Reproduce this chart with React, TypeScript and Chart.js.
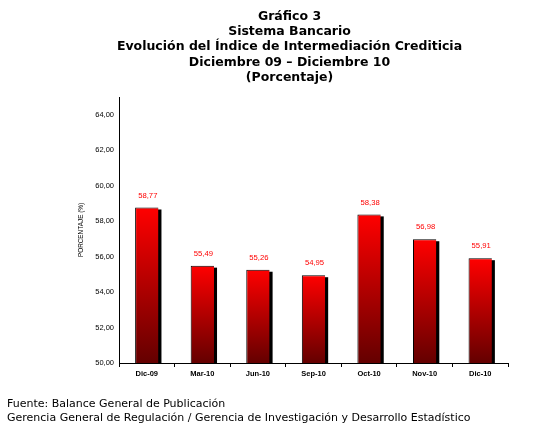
import React, { useEffect, useRef } from "react";
import { Chart, registerables } from "chart.js";

Chart.register(...registerables);

const categories = ["Dic-09", "Mar-10", "Jun-10", "Sep-10", "Oct-10", "Nov-10", "Dic-10"];
const values = [58.77, 55.49, 55.26, 54.95, 58.38, 56.98, 55.91];
const titleLines = [
  "Gráfico 3",
  "Sistema Bancario",
  "Evolución del Índice de Intermediación Crediticia",
  "Diciembre 09 – Diciembre 10",
  "(Porcentaje)",
];
const sourceLines = [
  "Fuente: Balance General de Publicación",
  "Gerencia General de Regulación / Gerencia de Investigación y Desarrollo Estadístico",
];
const yAxisTitle = "PORCENTAJE (%)";
const yMin = 50;
const yMax = 65;
const yStep = 2;

const fmt = (v: number) => v.toFixed(2).replace(".", ",");

export default function App() {
  const ref = useRef<HTMLCanvasElement>(null);

  useEffect(() => {
    if (!ref.current) return;

    const shadowPlugin = {
      id: "barShadow",
      beforeDatasetsDraw(chart: any) {
        const ctx = chart.ctx;
        const meta = chart.getDatasetMeta(0);
        const bottom = chart.chartArea.bottom;
        ctx.save();
        ctx.fillStyle = "#000000";
        meta.data.forEach((bar: any) => {
          const { x, y, base, width } = bar.getProps(["x", "y", "base", "width"], true);
          const b = Math.min(base, bottom);
          ctx.fillRect(x - width / 2 + 3, y + 2, width, b - y - 2);
        });
        ctx.restore();
      },
    };

    const labelPlugin = {
      id: "valueLabels",
      afterDatasetsDraw(chart: any) {
        const ctx = chart.ctx;
        const meta = chart.getDatasetMeta(0);
        ctx.save();
        ctx.fillStyle = "#ff0000";
        ctx.font = "7.7px 'Liberation Sans', Arial, sans-serif";
        ctx.textAlign = "center";
        ctx.textBaseline = "middle";
        meta.data.forEach((bar: any, i: number) => {
          const { x, y } = bar.getProps(["x", "y"], true);
          ctx.fillText(fmt(values[i]), x + 1, y - 12);
        });
        ctx.restore();
      },
    };

    const chart = new Chart(ref.current, {
      type: "bar",
      data: {
        labels: categories,
        datasets: [
          {
            data: values,
            backgroundColor: (c: any) => {
              const ch = c.chart;
              const area = ch.chartArea;
              if (!area || c.type !== "data" || !ch.scales.y) return "#d00000";
              const yTop = ch.scales.y.getPixelForValue(c.raw);
              const g = ch.ctx.createLinearGradient(0, yTop, 0, area.bottom);
              g.addColorStop(0, "#ff0000");
              g.addColorStop(1, "#640000");
              return g;
            },
            borderColor: "#000000",
            borderWidth: { top: 1, left: 1, right: 0, bottom: 0 },
            borderSkipped: false,
            barPercentage: 0.42,
            categoryPercentage: 1,
          },
        ],
      },
      options: {
        animation: false,
        responsive: false,
        devicePixelRatio: 1,
        layout: { padding: { left: 70, top: 97, right: 31, bottom: 47 } },
        plugins: {
          legend: { display: false },
          tooltip: { enabled: false },
          title: { display: false },
        },
        scales: {
          x: {
            grid: {
              display: true,
              drawOnChartArea: false,
              drawTicks: true,
              tickLength: 4,
              color: "#000000",
              offset: true,
            },
            border: { display: true, color: "#000000", width: 1 },
            ticks: {
              color: "#000000",
              padding: 2.5,
              font: { family: "'Liberation Sans', Arial, sans-serif", size: 7.5, weight: "bold" },
              maxRotation: 0,
            },
            afterFit: (s: any) => {
              s.height = 20;
            },
          },
          y: {
            min: yMin,
            max: yMax,
            grid: { display: false, drawTicks: false },
            border: { display: true, color: "#000000", width: 1 },
            ticks: {
              stepSize: yStep,
              includeBounds: false,
              color: "#000000",
              padding: 5,
              font: { family: "'Liberation Sans', Arial, sans-serif", size: 7.5 },
              callback: (v: any) => fmt(Number(v)),
            },
            title: {
              display: true,
              text: yAxisTitle,
              color: "#000000",
              padding: { top: 7.4, bottom: 0 },
              font: { family: "'Liberation Sans', Arial, sans-serif", size: 6.4 },
            },
            afterFit: (s: any) => {
              s.width = 49;
            },
          },
        },
      },
      plugins: [shadowPlugin, labelPlugin],
    } as any);

    return () => chart.destroy();
  }, []);

  return (
    <div style={{ position: "fixed", left: 0, top: 0, width: 539, height: 430, background: "#ffffff" }}>
      <canvas ref={ref} width={539} height={430} style={{ position: "absolute", left: 0, top: 0 }} />
      <div
        style={{
          position: "absolute",
          left: 20,
          top: 7.5,
          width: 539,
          textAlign: "center",
          fontFamily: "'DejaVu Sans', Verdana, sans-serif",
          fontWeight: "bold",
          fontSize: 12.5,
          lineHeight: "15.4px",
          color: "#000000",
        }}
      >
        {titleLines.map((t, i) => (
          <div key={i}>{t}</div>
        ))}
      </div>
      <div
        style={{
          position: "absolute",
          left: 7,
          top: 397,
          fontFamily: "'DejaVu Sans', Verdana, sans-serif",
          fontSize: 11,
          lineHeight: "13.5px",
          color: "#000000",
          whiteSpace: "nowrap",
        }}
      >
        {sourceLines.map((t, i) => (
          <div key={i}>{t}</div>
        ))}
      </div>
    </div>
  );
}
